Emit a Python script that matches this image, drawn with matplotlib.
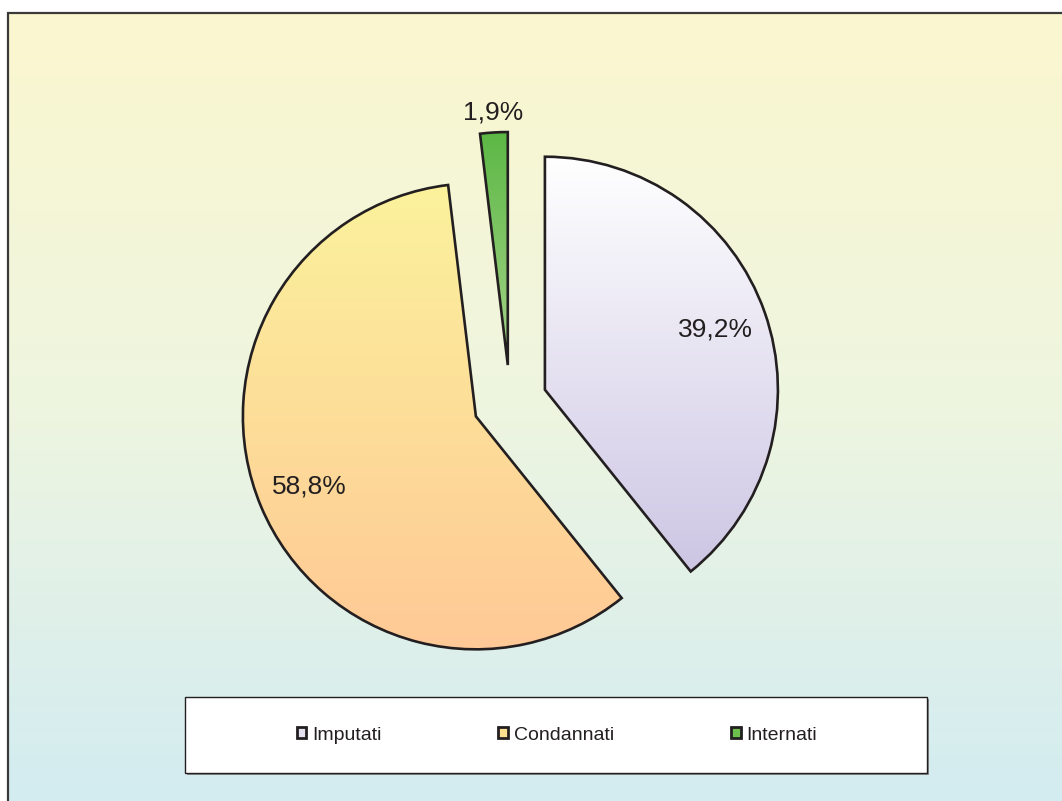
import numpy as np
import matplotlib
matplotlib.use('Agg')
import matplotlib.pyplot as plt
from matplotlib.patches import Rectangle, Patch
from matplotlib.colors import LinearSegmentedColormap

plt.rcParams['font.family'] = ['Liberation Sans', 'DejaVu Sans']

# data
labels = ['Imputati', 'Condannati', 'Internati']
values = [39.2, 58.8, 1.9]
pct_text = ['39,2%', '58,8%', '1,9%']
# gradient (top, bottom) per slice
grad_top = ['#FFFFFF', '#FBF29C', '#5CB845']
grad_bottom = ['#CDC6E4', '#FFC996', '#A6D48A']
legend_colors = ['#E4E1F0', '#FDE08F', '#6CBF4C']

W, H = 1062, 801
fig = plt.figure(figsize=(W / 100, H / 100), dpi=100)
ax = fig.add_axes([0, 0, 1, 1])

# background gradient panel
bg = LinearSegmentedColormap.from_list('bg', ['#FBF7CF', '#EEF5E0', '#D3ECF1'])
grad = np.linspace(0, 1, 256).reshape(-1, 1)
ax.imshow(grad, cmap=bg, extent=[8, W + 5, 0, 788], aspect='auto', zorder=0)
ax.add_patch(Rectangle((8, -10), W + 20, 798, fill=False, edgecolor='#3A3A3A', lw=1.6, zorder=1))

# pie
radius = 233
wedges, _, autotexts = ax.pie(values, center=(510, 399), radius=radius, startangle=90,
                              counterclock=False, explode=[37, 37, 37],
                              autopct=lambda p: '', pctdistance=0.775,
                              wedgeprops=dict(edgecolor='#231F20', linewidth=1.9),
                              frame=True)
ax.set_xlim(0, W)
ax.set_ylim(0, H)
ax.set_aspect('equal')
ax.axis('off')

for i, w in enumerate(wedges):
    cm = LinearSegmentedColormap.from_list('g%d' % i, [grad_top[i], grad_bottom[i]])
    bb = w.get_path().get_extents()
    im = ax.imshow(grad, cmap=cm, extent=[bb.x0, bb.x1, bb.y0, bb.y1],
                   aspect='auto', zorder=2)
    im.set_clip_path(w)
    w.set_facecolor('none')
    w.set_zorder(3)

for i, t in enumerate(autotexts):
    t.set_text(pct_text[i])
    t.set_fontsize(19)
    t.set_color('#231F20')
    t.set_zorder(4)

# small slice label sits outside
w = wedges[2]
thetam = np.deg2rad(0.5 * (w.theta1 + w.theta2))
cx, cy = w.center
autotexts[2].set_position((cx + 1.085 * radius * np.cos(thetam), cy + 1.085 * radius * np.sin(thetam)))

# legend box
ax.add_patch(Rectangle((187, 26), 742, 76, facecolor='#8C8C8C', edgecolor='none', zorder=5))
ax.add_patch(Rectangle((185, 28), 742, 76, facecolor='white', edgecolor='#231F20', lw=1.0, zorder=6))
handles = [Patch(facecolor=c, edgecolor='#231F20', linewidth=2.0) for c in legend_colors]
leg = ax.legend(handles, labels, ncol=3, loc='center', bbox_to_anchor=(557 / W, 66 / H),
                frameon=False, fontsize=14, handlelength=0.5, handleheight=0.55,
                handletextpad=0.3, columnspacing=6.0)
leg.set_zorder(7)
for t in leg.get_texts():
    t.set_color('#231F20')

fig.savefig('out.png', dpi=100, facecolor='white')
